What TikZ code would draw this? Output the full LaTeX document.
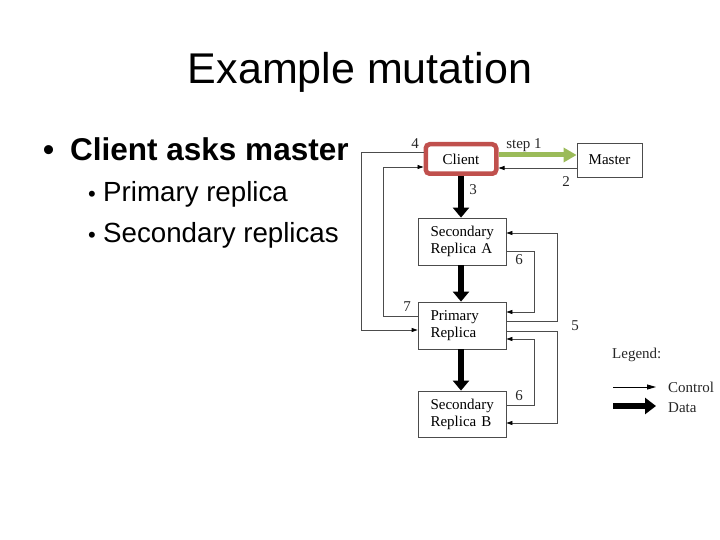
\documentclass[tikz,border=0pt]{standalone}
\usepackage{fontspec}
\setmainfont{Liberation Serif}
\newfontfamily\slidefont{Liberation Sans}
\usetikzlibrary{arrows.meta}
\definecolor{clientred}{HTML}{C0504D}
\definecolor{stepgreen}{HTML}{9BBB59}
\definecolor{wiregray}{gray}{0.3}
\begin{document}
\begin{tikzpicture}[x=1pt, y=-1pt,
    box/.style={draw=black!70, line width=0.8pt, fill=white, minimum height=47pt,
        font=\fontsize{15}{17}\selectfont},
    replica/.style={box, text width=63pt, align=left, inner xsep=12.5pt, inner ysep=0pt},
    ctrl/.style={draw=wiregray, line width=0.8pt, -{Triangle[length=6pt,width=4pt,color=black]}},
    data/.style={line width=6pt, -{Triangle[length=10pt,width=16pt]}},
    num/.style={font=\fontsize{15}{17}\selectfont, inner sep=0pt, text=black!85}]
    \useasboundingbox (0,0) rectangle (720,540);

    % === TITULO Y VIÑETAS ===
    \node[anchor=base, inner sep=0pt, font=\slidefont\fontsize{43}{50}\selectfont] (title) at (360,84) {Example mutation};

    \node[anchor=base west, inner sep=0pt, font=\slidefont\bfseries\fontsize{31.5}{36}\selectfont] (dot1) at (43,161) {•};
    \node[anchor=base west, inner sep=0pt, font=\slidefont\bfseries\fontsize{31.5}{36}\selectfont] (item1) at (70,161) {Client asks master};

    \node[anchor=base west, inner sep=0pt, font=\slidefont\fontsize{22}{26}\selectfont] (dot2) at (88,202) {•};
    \node[anchor=base west, inner sep=0pt, font=\slidefont\fontsize{27.7}{32}\selectfont] (item2) at (103,202) {Primary replica};
    \node[anchor=base west, inner sep=0pt, font=\slidefont\fontsize{22}{26}\selectfont] (dot3) at (88,243) {•};
    \node[anchor=base west, inner sep=0pt, font=\slidefont\fontsize{27.7}{32}\selectfont] (item3) at (103,243) {Secondary replicas};

    % === CAJAS ===
    \node[box, draw=clientred, line width=4.5pt, rounded corners=4pt, minimum width=70.5pt, minimum height=29.5pt] (client) at (461,159) {Client};
    \node[box, minimum width=65pt, minimum height=34pt] (master) at (609.5,160) {Master};
    \node[replica] (secA) at (462,241.5) {Secondary\\Replica A};
    \node[replica] (primary) at (462,325.5) {Primary\\Replica};
    \node[replica, minimum height=46pt] (secB) at (462,414) {Secondary\\Replica B};

    % === FLUJO DE DATOS (gruesas) ===
    \draw[data] (client.south) -- (client.south |- secA.north);
    \draw[data] (secA.south -| client.south) -- (client.south |- primary.north);
    \draw[data] (primary.south -| client.south) -- (client.south |- secB.north);

    % === CONTROL ===
    % paso 1: Client -> Master (verde)
    \draw[line width=5pt, stepgreen, -{Triangle[length=13pt,width=14pt]}] ([yshift=4pt]client.east) -- ([yshift=4pt]client.east -| master.west);
    % paso 2: Master -> Client
    \draw[ctrl] ([yshift=-8pt]master.west) -- ([yshift=-8pt]master.west -| client.east);
    % paso 4: Client -> Primary
    \draw[ctrl] ([yshift=7pt]client.west) -| ([xshift=-56pt,yshift=-4.5pt]primary.west) -- ([yshift=-4.5pt]primary.west);
    % paso 7: Primary -> Client
    \draw[ctrl] ([yshift=9.5pt]primary.west) -- ++(-34,0) |- ([yshift=-8pt]client.west);
    % paso 5: Primary -> secundarias
    \draw[ctrl] ([yshift=4.5pt]primary.east) -- ++(51,0) |- ([yshift=8.5pt]secA.east);
    \draw[ctrl] ([yshift=-5.5pt]primary.east) -- ++(51,0) |- ([yshift=-9pt]secB.east);
    % paso 6: secundarias -> Primary
    \draw[ctrl] ([yshift=-9.5pt]secA.east) -- ++(28,0) |- ([yshift=13.5pt]primary.east);
    \draw[ctrl] ([yshift=9pt]secB.east) -- ++(28,0) |- ([yshift=-13.5pt]primary.east);

    % === ETIQUETAS ===
    \node[num] (n4) at (415,144) {4};
    \node[num] (n1) at (524,145) {step 1};
    \node[num] (n2) at (566,182) {2};
    \node[num] (n3) at (473,190) {3};
    \node[num] (n7) at (407,307) {7};
    \node[num] (n5) at (575,326) {5};
    \node[num] (n6a) at (519,260) {6};
    \node[num] (n6b) at (519,396) {6};

    % === LEYENDA ===
    \node[num, anchor=west] (legend) at (612,355) {Legend:};
    \coordinate (ctrlA) at (613,387);
    \coordinate (ctrlB) at (656,387);
    \draw[draw=black, line width=0.8pt, -{Triangle[length=9pt,width=5pt]}] (ctrlA) -- (ctrlB);
    \node[num, anchor=west] (ctrltxt) at (668,387) {Control};
    \coordinate (dataA) at (613,406);
    \coordinate (dataB) at (656,406);
    \draw[line width=6pt, -{Triangle[length=11pt,width=16pt]}] (dataA) -- (dataB);
    \node[num, anchor=west] (datatxt) at (668,408) {Data};
\end{tikzpicture}
\end{document}
